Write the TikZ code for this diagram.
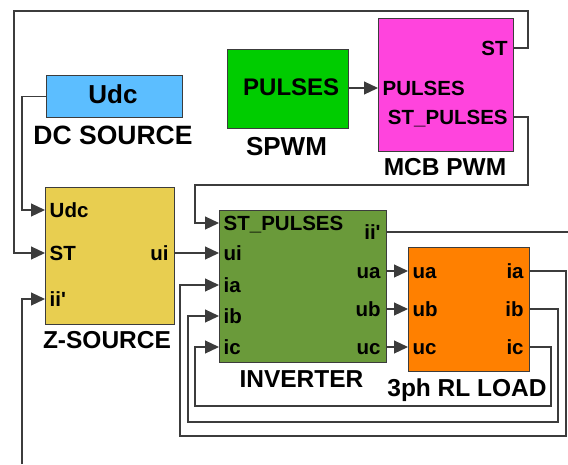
\documentclass[tikz,border=0pt]{standalone}
\usepackage{fontspec}
\setmainfont{Liberation Sans}[Ligatures=TeXOff]
\usetikzlibrary{arrows.meta}
\definecolor{dcblue}{RGB}{92,190,255}
\definecolor{zyellow}{RGB}{232,206,80}
\definecolor{spgreen}{RGB}{0,204,0}
\definecolor{mcbpink}{RGB}{255,68,221}
\definecolor{invgreen}{RGB}{106,154,58}
\definecolor{ldorange}{RGB}{255,128,0}
\definecolor{wire}{RGB}{60,60,60}
\tikzset{
  blk/.style={draw=wire, line width=1.3pt, inner sep=0pt, anchor=north west},
  inport/.style={inner sep=0pt, anchor=west, xshift=4.5pt, text height=14.5pt, text depth=0pt,
    font=\bfseries\fontsize{20.5}{20.5}\selectfont},
  outport/.style={inner sep=0pt, anchor=east, xshift=-6.5pt, text height=14.5pt, text depth=0pt,
    font=\bfseries\fontsize{20.5}{20.5}\selectfont},
  lbl/.style={inner sep=0pt, anchor=base, font=\bfseries\fontsize{24.5}{24.5}\selectfont},
  conn/.style={draw=wire, line width=1.2pt},
  arr/.style={conn, -{Triangle[length=14pt,width=13pt]}}
}
\begin{document}
\begin{tikzpicture}[x=1pt,y=-1pt]
\useasboundingbox (0,0) rectangle (568,464);

% blocks
\node[blk, fill=dcblue, minimum width=136pt, minimum height=42pt] (dc) at (46,75) {};
\node[blk, fill=zyellow, minimum width=129pt, minimum height=137pt] (zs) at (45,187) {};
\node[blk, fill=spgreen, minimum width=121pt, minimum height=79pt] (spwm) at (227,49) {};
\node[blk, fill=mcbpink, minimum width=135pt, minimum height=133pt] (mcb) at (378,18) {};
\node[blk, fill=invgreen, minimum width=167pt, minimum height=152pt] (inv) at (219,210) {};
\node[blk, fill=ldorange, minimum width=121pt, minimum height=124pt] (ld) at (408,247) {};

% inner texts
\node[lbl, font=\bfseries\fontsize{26}{26}\selectfont] (dctxt) at (113,103) {Udc};
\node[lbl, anchor=base west, font=\bfseries\fontsize{24}{24}\selectfont] (sptxt) at (243,95) {PULSES};

% block labels
\node[lbl, font=\bfseries\fontsize{26.5}{26.5}\selectfont] (dclbl) at (113,144) {DC SOURCE};
\node[lbl, font=\bfseries\fontsize{26}{26}\selectfont] (splbl) at (286.5,155) {SPWM};
\node[lbl] (mcblbl) at (445,175) {MCB PWM};
\node[lbl] (zslbl) at (107,348) {Z-SOURCE};
\node[lbl] (invlbl) at (301.5,387) {INVERTER};
\node[lbl] (ldlbl) at (467,396) {3ph RL LOAD};

% ports: Z-source
\node[inport] (zsUdc) at (zs.west |- 0,210) {Udc};
\node[inport] (zsST) at (zs.west |- 0,253) {ST};
\node[inport] (zsii) at (zs.west |- 0,299) {ii'};
\node[outport] (zsui) at (zs.east |- 0,253) {ui};
% ports: MCB PWM
\node[outport] (mcbST) at (mcb.east |- 0,48) {ST};
\node[inport] (mcbPU) at (mcb.west |- 0,88) {PULSES};
\node[outport] (mcbSTP) at (mcb.east |- 0,117) {ST\_PULSES};
% ports: inverter
\node[inport] (invSTP) at (inv.west |- 0,223) {ST\_PULSES};
\node[inport] (invui) at (inv.west |- 0,253) {ui};
\node[inport] (invia) at (inv.west |- 0,285) {ia};
\node[inport] (invib) at (inv.west |- 0,316) {ib};
\node[inport] (invic) at (inv.west |- 0,347) {ic};
\node[outport] (invii) at (inv.east |- 0,232) {ii'};
\node[outport] (invua) at (inv.east |- 0,271) {ua};
\node[outport] (invub) at (inv.east |- 0,309) {ub};
\node[outport] (invuc) at (inv.east |- 0,347) {uc};
% ports: load
\node[inport] (ldua) at (ld.west |- 0,271) {ua};
\node[inport] (ldub) at (ld.west |- 0,309) {ub};
\node[inport] (lduc) at (ld.west |- 0,347) {uc};
\node[outport] (ldia) at (ld.east |- 0,271) {ia};
\node[outport] (ldib) at (ld.east |- 0,309) {ib};
\node[outport] (ldic) at (ld.east |- 0,347) {ic};

% free ends
\coordinate (iiout) at (568,232);
\coordinate (iiin) at (22,464);

% connectors
\draw[arr] (dc.west) -- ++(-24,0) |- (zs.west |- zsUdc.west);
\draw[arr] (mcb.east |- mcbST.east) -| (528,11) -| (14,253) -- (zs.west |- zsST.west);
\draw[arr] (iiin) |- (zs.west |- zsii.west);
\draw[arr] (spwm.east |- mcbPU.west) -- (mcb.west |- mcbPU.west);
\draw[arr] (mcb.east |- mcbSTP.east) -| (528,185) -| (195,223) -- (inv.west |- invSTP.west);
\draw[arr] (zs.east |- zsui.east) -- (inv.west |- invui.west);
\draw[conn] (inv.east |- invii.east) -- (iiout);
\draw[arr] (inv.east |- invua.east) -- (ld.west |- ldua.west);
\draw[arr] (inv.east |- invub.east) -- (ld.west |- ldub.west);
\draw[arr] (inv.east |- invuc.east) -- (ld.west |- lduc.west);
\draw[arr] (ld.east |- ldia.east) -| (566,436) -| (180,285) -- (inv.west |- invia.west);
\draw[arr] (ld.east |- ldib.east) -| (558,422) -| (188,316) -- (inv.west |- invib.west);
\draw[arr] (ld.east |- ldic.east) -| (551,406) -| (195,347) -- (inv.west |- invic.west);
\end{tikzpicture}
\end{document}
